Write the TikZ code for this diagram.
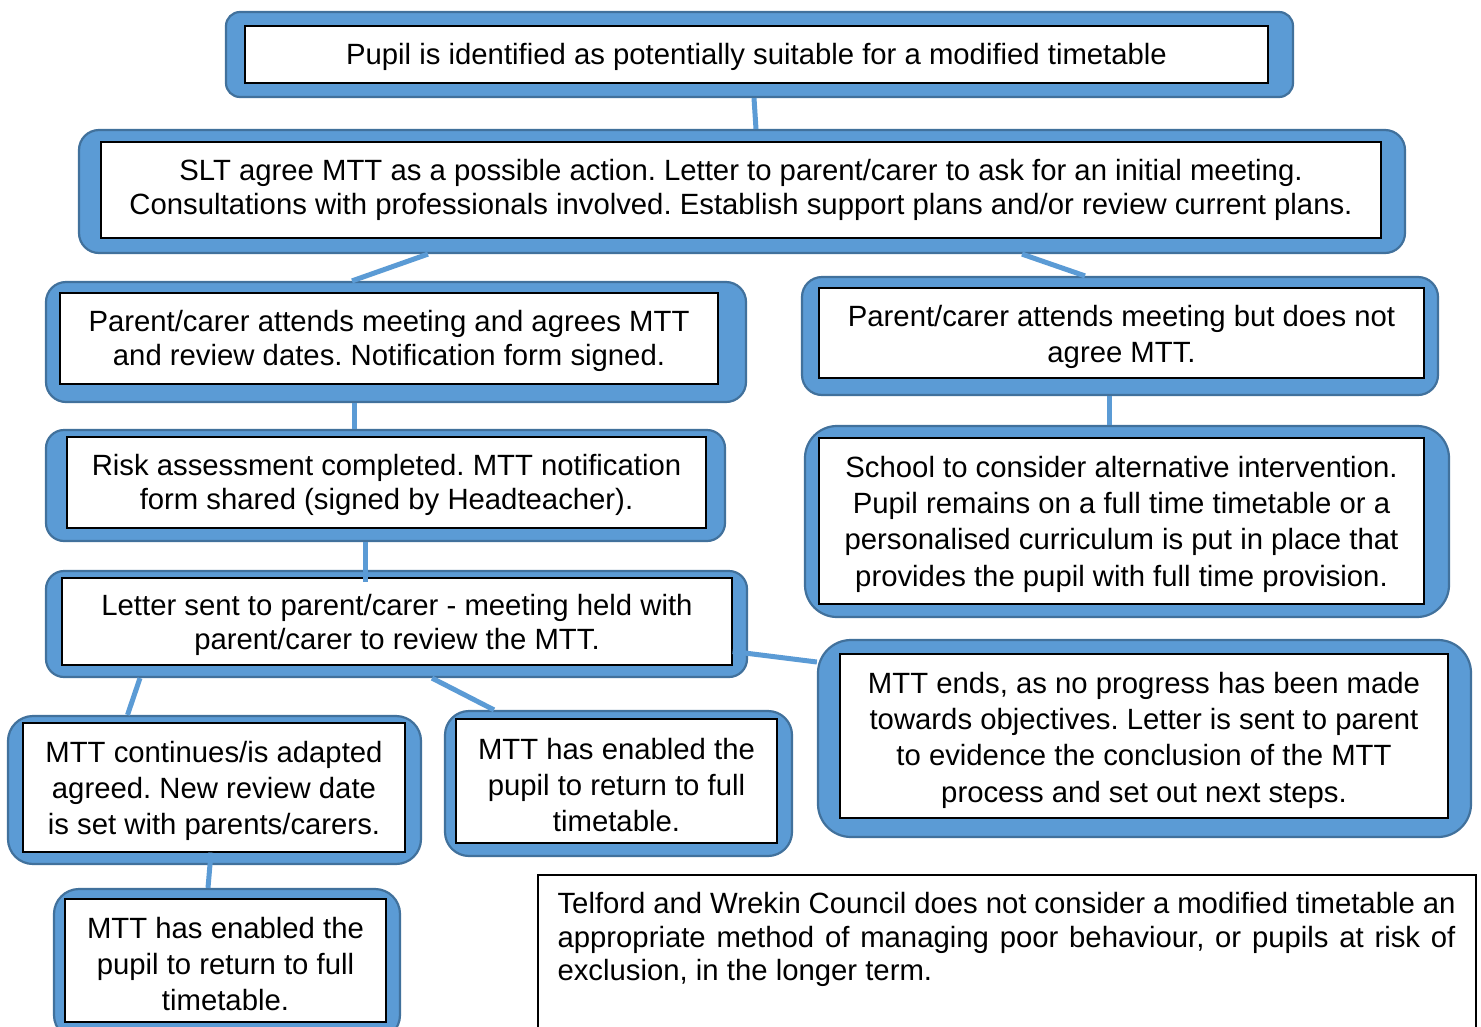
\documentclass[tikz,border=0pt]{standalone}
\usepackage{fontspec}
\setmainfont{Liberation Sans}
\frenchspacing
\usetikzlibrary{fit,calc}
\definecolor{boxblue}{HTML}{5B9BD5}
\definecolor{edgeblue}{HTML}{41719C}
% name, outer corner 1, outer corner 2, inner corner 1, inner corner 2, radius, baselineskip, text shift, text
\newcommand\flowbox[9]{%
  \node[outerbox, rounded corners=#6pt, fit={(#2)(#3)}] (#1o) {};
  \node[innerbox, fit={(#4)(#5)}] (#1) {};
  \node[txt, font=\fontsize{29.3}{#7}\selectfont] (#1t) at ([yshift=#8pt]#1.center) {#9};
}
\begin{document}
\begin{tikzpicture}[x=1pt,y=-1pt,
  outerbox/.style={draw=edgeblue, line width=2.2pt, fill=boxblue, inner sep=0pt},
  innerbox/.style={draw=black, line width=1.3pt, fill=white, inner sep=0pt},
  txt/.style={inner sep=0pt, align=center},
  conn/.style={draw=boxblue, line width=5pt}]
\clip (0,0) rectangle (1481,1026);
\fill[white] (0,0) rectangle (1481,1026);

\flowbox{b1}{226,12}{1293,97}{245,26}{1268,83}{14}{34}{-2.5}{Pupil is identified as potentially suitable for a modified timetable}
\flowbox{b2}{79,130}{1405,253}{101,142}{1381,238}{20}{34}{0}{SLT agree MTT as a possible action. Letter to parent/carer to ask for an initial meeting.\\Consultations with professionals involved. Establish support plans and/or review current plans.}
\flowbox{b3}{46,282}{746,402}{60,293}{718,384}{20}{34}{-2.5}{Parent/carer attends meeting and agrees MTT\\and review dates. Notification form signed.}
\flowbox{b4}{802,277}{1438,395}{819,288}{1424,378}{20}{36}{-4}{Parent/carer attends meeting but does not\\agree MTT.}
\flowbox{b5}{46,430}{725,541}{67,437}{706,528}{18}{34}{-2.5}{Risk assessment completed. MTT notification\\form shared (signed by Headteacher).}
\flowbox{b6}{805,426}{1449,617}{819,438}{1424,604}{32}{36.3}{-3}{School to consider alternative intervention.\\Pupil remains on a full time timetable or a\\personalised curriculum is put in place that\\provides the pupil with full time provision.}
\flowbox{b7}{46,571}{747,677}{62,578}{732,665}{18}{34}{-3}{Letter sent to parent/carer - meeting held with\\parent/carer to review the MTT.}
\flowbox{b8}{818,640}{1471,837}{840,654}{1448,818}{33}{36.3}{-4}{MTT ends, as no progress has been made\\towards objectives. Letter is sent to parent\\to evidence the conclusion of the MTT\\process and set out next steps.}
\flowbox{b9}{8,716}{421,864}{23,723}{405,852}{25}{36}{-3}{MTT continues/is adapted\\agreed. New review date\\is set with parents/carers.}
\flowbox{b10}{445,711}{792,856}{456,719}{777,843}{24}{36}{-4}{MTT has enabled the\\pupil to return to full\\timetable.}
\flowbox{b11}{54,889}{400,1040}{65,899}{386,1022}{25}{36}{-4}{MTT has enabled the\\pupil to return to full\\timetable.}

% note box
\node[draw=black, line width=1.3pt, fill=white, inner sep=0pt, fit={(538,875)(1476,1045)}] (note) {};
\node[inner sep=0pt, anchor=north west, text width=898pt, align=justify,
      font=\fontsize{29.3}{33.5}\selectfont] (notet) at ([xshift=20pt,yshift=-18pt]note.north west)
  {Telford and Wrekin Council does not consider a modified timetable an appropriate method of managing poor behaviour, or pupils at risk of exclusion, in the longer term.};

% connectors
\draw[conn] ([xshift=-5.5pt]b1o.south) -- ([xshift=14pt]b2o.north);
\draw[conn] ([xshift=-314pt]b2o.south) -- ([xshift=-44pt]b3o.north);
\draw[conn] ([xshift=280pt]b2o.south) -- ([xshift=-35pt]b4o.north);
\draw[conn] ([xshift=-42pt]b3o.south) -- ([xshift=-31.5pt]b5o.north);
\draw[conn] ([xshift=-11pt]b4o.south) -- ([xshift=-18pt]b6o.north);
\draw[conn] ([xshift=-20.5pt]b5o.south) -- ([xshift=-31.5pt,yshift=-12pt]b7o.north);
\draw[conn] ([yshift=-30pt]b7.east) -- ([yshift=76.5pt]b8o.west);
\draw[conn] ([xshift=-256.5pt]b7o.south) -- ([xshift=-87pt]b9o.north);
\draw[conn] ([xshift=35.5pt]b7o.south) -- ([xshift=-124.5pt]b10o.north);
\draw[conn] ([xshift=-3pt]b9.south) -- ([xshift=-19pt]b11o.north);
\end{tikzpicture}
\end{document}
